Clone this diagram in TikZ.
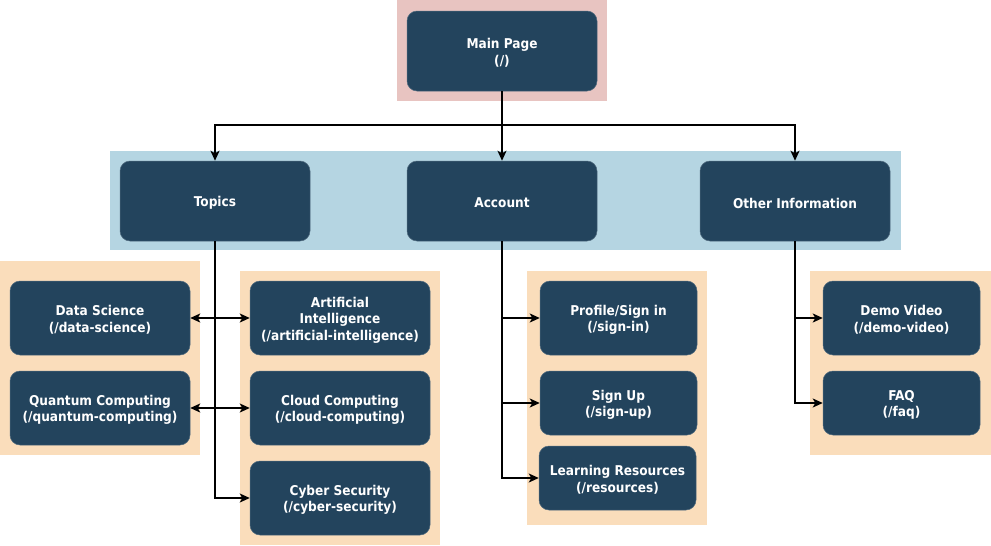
\documentclass[tikz,border=0pt]{standalone}
\usepackage{fontspec}
\setmainfont{DejaVu Sans Condensed}
\usetikzlibrary{arrows.meta}
\definecolor{boxc}{HTML}{23445D}
\definecolor{pinkbg}{HTML}{E8C4C1}
\definecolor{bluebg}{HTML}{B5D5E2}
\definecolor{orangebg}{HTML}{FADDBB}
\begin{document}
\begin{tikzpicture}[x=1pt,y=-1pt,
  pg/.style={draw=boxc!80!white,line width=0.5pt,fill=boxc,rounded corners=10pt,inner sep=0pt},
  pgt/.style={text=white,font=\fontsize{13.5}{16.5}\selectfont\bfseries,align=center,inner sep=0pt,yshift=-2pt},
  arr/.style={line width=1.4pt,-{Stealth[length=10pt,width=9pt,inset=2.5pt]}},
  darr/.style={line width=1.4pt,{Stealth[length=10pt,width=9pt,inset=2.5pt]}-{Stealth[length=10pt,width=9pt,inset=2.5pt]}}]
\useasboundingbox (0,0) rectangle (991,546);
% backgrounds
\fill[pinkbg] (397,0) rectangle (607,101);
\fill[bluebg] (110,151) rectangle (901,250);
\fill[orangebg] (0,261) rectangle (200,455);
\fill[orangebg] (240,271) rectangle (440,545);
\fill[orangebg] (527,271) rectangle (707,525);
\fill[orangebg] (810,271) rectangle (991,455);
% nodes
\node[pg,minimum width=190pt,minimum height=80pt,label={[pgt]center:{Main Page\\(/)}}] (main) at (502,51) {};
\node[pg,minimum width=190pt,minimum height=80pt,label={[pgt]center:{Topics}}] (topics) at (215,201) {};
\node[pg,minimum width=190pt,minimum height=80pt,label={[pgt]center:{Account}}] (account) at (502,201) {};
\node[pg,minimum width=190pt,minimum height=80pt,label={[pgt]center:{Other Information}}] (other) at (795,201) {};
\node[pg,minimum width=180pt,minimum height=74pt,label={[pgt]center:{Data Science\\(/data-science)}}] (ds) at (100,318) {};
\node[pg,minimum width=180pt,minimum height=74pt,label={[pgt]center:{Quantum Computing\\(/quantum-computing)}}] (qc) at (100,408) {};
\node[pg,minimum width=180pt,minimum height=74pt,label={[pgt]center:{Artificial\\Intelligence\\(/artificial-intelligence)}}] (ai) at (340,318) {};
\node[pg,minimum width=180pt,minimum height=74pt,label={[pgt]center:{Cloud Computing\\(/cloud-computing)}}] (cc) at (340,408) {};
\node[pg,minimum width=180pt,minimum height=74pt,label={[pgt]center:{Cyber Security\\(/cyber-security)}}] (cs) at (340,498) {};
\node[pg,minimum width=157pt,minimum height=74pt,label={[pgt]center:{Profile/Sign in\\(/sign-in)}}] (prof) at (618.5,318) {};
\node[pg,minimum width=157pt,minimum height=64pt,label={[pgt]center:{Sign Up\\(/sign-up)}}] (signup) at (618.5,403) {};
\node[pg,minimum width=157pt,minimum height=64pt,label={[pgt]center:{Learning Resources\\(/resources)}}] (learn) at (617.5,478) {};
\node[pg,minimum width=157pt,minimum height=74pt,label={[pgt]center:{Demo Video\\(/demo-video)}}] (demo) at (901.5,318) {};
\node[pg,minimum width=157pt,minimum height=64pt,label={[pgt]center:{FAQ\\(/faq)}}] (faq) at (901.5,403) {};
% connectors
\coordinate (bus) at (502,125);
\draw[line width=1.4pt] (main.south) -- (bus);
\draw[arr] (bus) -| (topics.north);
\draw[arr] (bus) -- (account.north);
\draw[arr] (bus) -| (other.north);
\draw[arr] (topics.south) |- (cs.west);
\draw[darr] (ds.east) -- (ai.west);
\draw[darr] (qc.east) -- (cc.west);
\draw[arr] (account.south) |- (prof.west);
\draw[arr] (account.south) |- (signup.west);
\draw[arr] (account.south) |- (learn.west);
\draw[arr] (other.south) |- (demo.west);
\draw[arr] (other.south) |- (faq.west);
\end{tikzpicture}
\end{document}
